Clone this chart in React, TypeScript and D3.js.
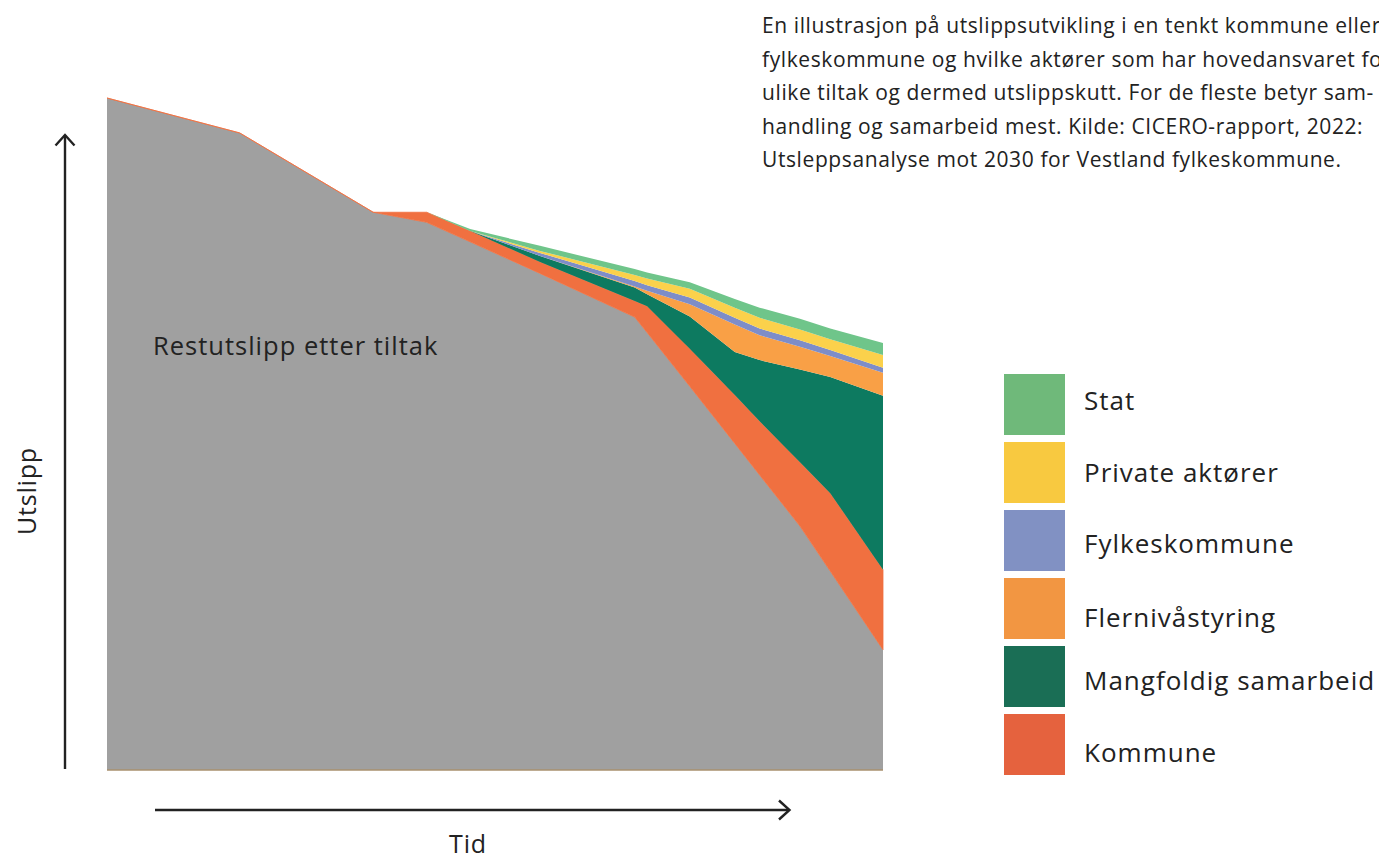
import React from "react";
import * as d3 from "d3";

// Time (arbitrary units 0–100) and emissions (index, start = 100)
const time = [0, 17.1, 34.3, 41.2, 46.8, 55.8, 68.0, 69.6, 75.1, 80.9, 84.1, 89.3, 93.2, 100];
const restutslipp = [100, 94.8, 83.0, 81.5, 78.6, 73.9, 67.4, 65.1, 57.1, 48.6, 43.9, 36.3, 29.6, 17.9];
const kommune = [0, 0, 0, 1.5, 1.6, 1.7, 2.4, 3.9, 5.6, 7.2, 8.0, 9.5, 11.6, 11.9];
const mangfoldig = [0, 0, 0, 0, 0, 0.9, 2.0, 1.8, 4.8, 6.4, 9.1, 13.8, 17.3, 25.9];
const flerniva = [0, 0, 0, 0, 0, 0, 0.15, 0.5, 1.8, 4.1, 3.7, 3.4, 3.1, 3.4];
const fylkeskommune = [0, 0, 0, 0, 0, 0.45, 0.8, 0.85, 1.0, 1.0, 1.0, 0.95, 0.9, 0.75];
const private_ = [0, 0, 0, 0, 0, 0.3, 0.9, 1.0, 1.3, 1.5, 1.6, 1.6, 1.6, 1.9];
const stat = [0, 0, 0, 0, 0.3, 0.75, 0.9, 0.9, 1.0, 1.3, 1.5, 1.6, 1.6, 1.8];

const keys = ["rest", "kommune", "mangfoldig", "flerniva", "fylkes", "private", "stat"];
const areaColors: Record<string, string> = {
  rest: "#a0a0a0",
  kommune: "#f07040",
  mangfoldig: "#0d7a60",
  flerniva: "#f9a046",
  fylkes: "#7e8dc8",
  private: "#fbd14b",
  stat: "#6fc58a",
};

const legendLabels = ["Stat", "Private aktører", "Fylkeskommune", "Flernivåstyring", "Mangfoldig samarbeid", "Kommune"];
const legendColors = ["#6fb97a", "#f8c940", "#8191c3", "#f29642", "#1a6e55", "#e5623e"];

const description = [
  "En illustrasjon på utslippsutvikling i en tenkt kommune eller",
  "fylkeskommune og hvilke aktører som har hovedansvaret for",
  "ulike tiltak og dermed utslippskutt. For de fleste betyr sam-",
  "handling og samarbeid mest. Kilde: CICERO-rapport, 2022:",
  "Utsleppsanalyse mot 2030 for Vestland fylkeskommune.",
];

const FONT = "'Open Sans', Lato, sans-serif";
const INK = "#222222";

// layout: legend label baselines relative to each swatch top
const legendBaselineOffsets = [36, 40, 43, 48.5, 44, 48];

export default function App() {
  const W = 1379;
  const H = 859;
  const x = d3.scaleLinear().domain([0, 100]).range([107, 883]);
  const y = d3.scaleLinear().domain([0, 100]).range([770, 98]);

  const rows = time.map((t, i) => ({
    t,
    rest: restutslipp[i],
    kommune: kommune[i],
    mangfoldig: mangfoldig[i],
    flerniva: flerniva[i],
    fylkes: fylkeskommune[i],
    private: private_[i],
    stat: stat[i],
  }));

  const series = d3.stack<any>().keys(keys)(rows);
  const area = d3
    .area<any>()
    .x((d) => x(d.data.t))
    .y0((d) => y(d[0]))
    .y1((d) => y(d[1]));

  return (
    <svg
      width={W}
      height={H}
      style={{ position: "absolute", left: 0, top: 0, display: "block" }}
      fontFamily={FONT}
    >
      <rect width={W} height={H} fill="#ffffff" />
      {series.map((s) => (
        <path
          key={s.key}
          d={area(s) || ""}
          fill={areaColors[s.key]}
          stroke={s.key === "kommune" ? areaColors.kommune : "none"}
          strokeWidth={s.key === "kommune" ? 0.8 : 0}
        />
      ))}
      <line x1={x(0)} x2={x(100)} y1={y(0)} y2={y(0)} stroke="#a8906e" strokeWidth={1.5} />

      <text x={153} y={355} fontSize={25.5} letterSpacing={1} fill={INK}>
        Restutslipp etter tiltak
      </text>

      {/* Y arrow */}
      <line x1={65} x2={65} y1={769} y2={135} stroke={INK} strokeWidth={2.4} />
      <polyline points="55.5,145.5 65,135 74.5,145.5" fill="none" stroke={INK} strokeWidth={2.4} />
      <text
        transform="translate(36,491) rotate(-90)"
        textAnchor="middle"
        fontSize={25}
        letterSpacing={0.8}
        fill={INK}
      >
        Utslipp
      </text>

      {/* X arrow */}
      <line x1={155} x2={789} y1={810} y2={810} stroke={INK} strokeWidth={2.4} />
      <polyline points="779,800.5 789.5,810 779,819.5" fill="none" stroke={INK} strokeWidth={2.4} />
      <text x={468} y={853} textAnchor="middle" fontSize={25} letterSpacing={0.8} fill={INK}>
        Tid
      </text>

      {/* Description */}
      {description.map((line, i) => (
        <text key={i} x={762} y={33 + i * 33.5} fontSize={21} letterSpacing={0.6} fill={INK}>
          {line}
        </text>
      ))}

      {/* Legend */}
      {legendLabels.map((label, i) => (
        <g key={label} transform={`translate(1004, ${374 + i * 68})`}>
          <rect width={61} height={61} fill={legendColors[i]} />
          <text x={80} y={legendBaselineOffsets[i]} fontSize={26} letterSpacing={1} fill={INK}>
            {label}
          </text>
        </g>
      ))}
    </svg>
  );
}
